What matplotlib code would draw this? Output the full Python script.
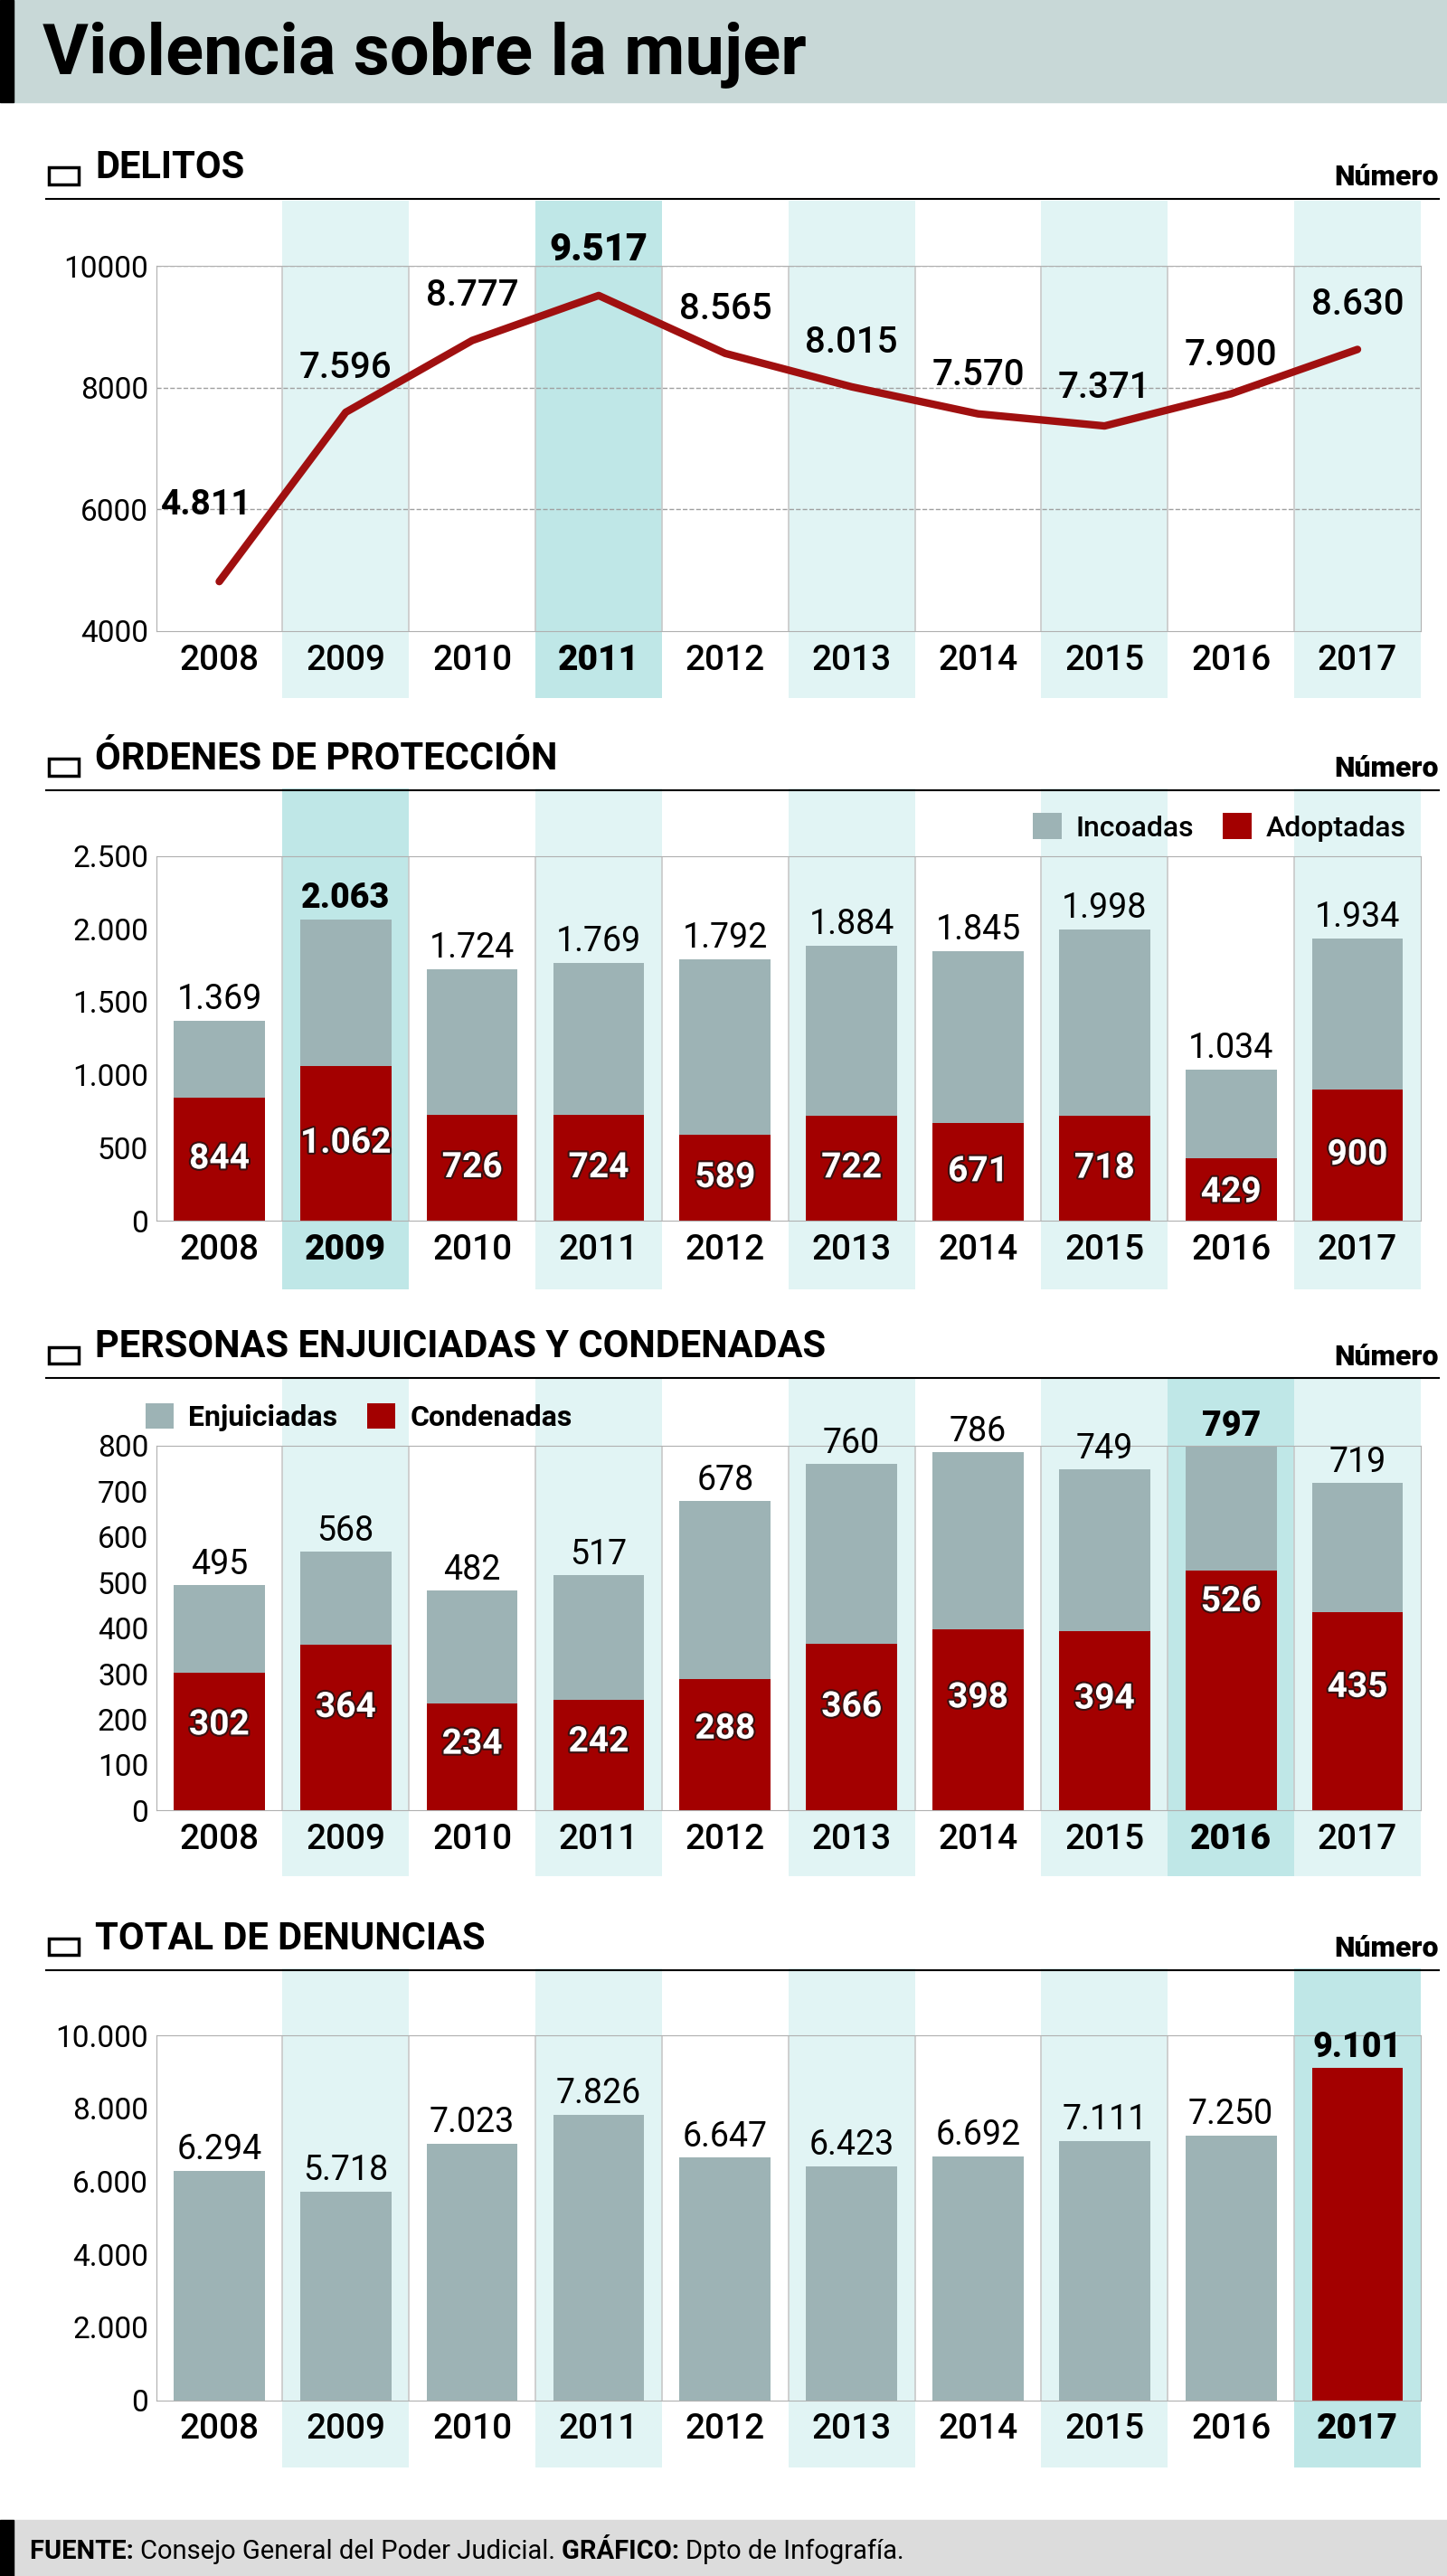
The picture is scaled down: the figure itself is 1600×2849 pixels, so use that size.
import numpy as np
import matplotlib.pyplot as plt
import matplotlib.patheffects as pe
from matplotlib.patches import Rectangle

plt.rcParams["font.family"] = "Roboto"

years = ["2008", "2009", "2010", "2011", "2012", "2013", "2014", "2015", "2016", "2017"]
delitos = [4811, 7596, 8777, 9517, 8565, 8015, 7570, 7371, 7900, 8630]
ord_incoadas = [1369, 2063, 1724, 1769, 1792, 1884, 1845, 1998, 1034, 1934]
ord_adoptadas = [844, 1062, 726, 724, 589, 722, 671, 718, 429, 900]
enjuiciadas = [495, 568, 482, 517, 678, 760, 786, 749, 797, 719]
condenadas = [302, 364, 234, 242, 288, 366, 398, 394, 526, 435]
denuncias = [6294, 5718, 7023, 7826, 6647, 6423, 6692, 7111, 7250, 9101]

W, H = 881.0, 1568.0
GRAY = "#9db3b5"
RED = "#a30000"
LIGHT = "#e1f4f4"
HILITE = "#bfe7e7"


def fmt(v):
    return "{:,}".format(v).replace(",", ".")


def fx(x):
    return x / W


def fy(y):
    return 1 - y / H


fig = plt.figure(figsize=(16, 28.49), dpi=100)

# title bar
fig.patches.append(Rectangle((0, fy(62)), 1, 62 / H, transform=fig.transFigure,
                             color="#c8d8d7", zorder=0))
fig.patches.append(Rectangle((0, fy(62)), fx(8), 62 / H, transform=fig.transFigure,
                             color="black", zorder=1))
fig.text(fx(26), fy(33), "Violencia sobre la mujer", fontsize=56, fontweight="bold",
         va="center", ha="left")

# footer
fig.patches.append(Rectangle((0, 0), 1, 34 / H, transform=fig.transFigure,
                             color="#dcdcdc", zorder=0))
fig.patches.append(Rectangle((0, 0), fx(8), 34 / H, transform=fig.transFigure,
                             color="black", zorder=1))
renderer = fig.canvas.get_renderer()
xpos = fx(18)
for txt, wt in [("FUENTE: ", "bold"), ("Consejo General del Poder Judicial. ", "normal"),
                ("GRÁFICO: ", "bold"), ("Dpto de Infografía.", "normal")]:
    t = fig.text(xpos, fy(1553), txt, fontsize=21, fontweight=wt, va="center")
    bb = t.get_window_extent(renderer)
    xpos += bb.width / fig.bbox.width


def header(y, title):
    fig.patches.append(Rectangle((fx(30), fy(y + 10)), fx(18), 0.0065,
                                 transform=fig.transFigure, fill=False, lw=2.5,
                                 edgecolor="black"))
    fig.text(fx(58), fy(y), title, fontsize=30, fontweight="bold", va="center")
    fig.text(fx(876), fy(y + 6), "Número", fontsize=23, fontweight="black", va="center",
             ha="right")
    fig.add_artist(plt.Line2D([fx(28), fx(876)], [fy(y + 19), fy(y + 19)],
                              transform=fig.transFigure, color="black", lw=1.5))


def panel(ytop, ybot, band_top, band_bot, hi):
    ax = fig.add_axes([fx(95), fy(ybot), fx(865) - fx(95), (ybot - ytop) / H])
    ax.set_xlim(-0.5, 9.5)
    h = ybot - ytop
    for i in range(10):
        if i % 2 == 1 or i == hi:
            ax.axvspan(i - 0.5, i + 0.5, ymin=(ybot - band_bot) / h,
                       ymax=(ybot - band_top) / h, color=HILITE if i == hi else LIGHT,
                       clip_on=False, zorder=0, lw=0)
    for i in range(1, 10):
        ax.axvline(i - 0.5, color="#c8c8c8", lw=1.2, zorder=0.5)
    for s in ax.spines.values():
        s.set_color("#b0b0b0")
    ax.set_facecolor("none")
    ax.set_xticks(range(10))
    ax.set_xticklabels(years, fontsize=28, fontweight="medium")
    ax.get_xticklabels()[hi].set_fontweight("black")
    ax.tick_params(axis="x", length=0, pad=10)
    ax.tick_params(axis="y", length=0, labelsize=24, pad=6)
    return ax


# DELITOS
header(102, "DELITOS")
ax1 = panel(162, 384, 122, 425, 3)
ax1.set_ylim(4000, 10000)
ax1.set_yticks([4000, 6000, 8000, 10000])
ax1.set_yticklabels(["4000", "6000", "8000", "10000"])
for v in [6000, 8000, 10000]:
    ax1.axhline(v, color="#a0a0a0", ls="--", lw=1, zorder=0.6)
ax1.plot(range(10), delitos, color="#a01010", lw=6, zorder=3, solid_capstyle="round")
for i, v in enumerate(delitos):
    if i == 0:
        ax1.text(i - 0.1, v + 1100, fmt(v), fontsize=28, fontweight="bold", ha="center",
                 zorder=4)
    else:
        dy = 450 if i in (1, 2, 3, 4, 5, 9) else 350
        ax1.text(i, v + dy, fmt(v), fontsize=29 if i != 3 else 30,
                 fontweight="black" if i == 3 else "medium", ha="center", va="bottom",
                 zorder=4)

stroke = [pe.withStroke(linewidth=3, foreground="#3a1010")]
x = np.arange(10)

# ORDENES
header(462, "ÓRDENES DE PROTECCIÓN")
ax2 = panel(521, 743, 480, 785, 1)
ax2.set_ylim(0, 2500)
ax2.set_yticks(range(0, 2501, 500))
ax2.set_yticklabels([fmt(v) for v in range(0, 2501, 500)])
ax2.bar(x, ord_incoadas, width=0.72, color=GRAY, zorder=2, label="Incoadas")
ax2.bar(x, ord_adoptadas, width=0.72, color=RED, zorder=2, label="Adoptadas")
for i in range(10):
    ax2.text(i, ord_incoadas[i] + 30, fmt(ord_incoadas[i]), fontsize=27, ha="center",
             va="bottom", fontweight="black" if i == 1 else "normal", zorder=4)
    ax2.text(i, ord_adoptadas[i] / 2 if ord_adoptadas[i] > 500 else ord_adoptadas[i] * 0.45,
             fmt(ord_adoptadas[i]), fontsize=28, ha="center", va="center", color="white",
             fontweight="bold", path_effects=stroke, zorder=4)
ax2.legend(loc="lower right", bbox_to_anchor=(1.0, 1.0), ncol=2, frameon=False,
           prop={"size": 23, "weight": "medium"}, handlelength=1.0, handleheight=1.0,
           columnspacing=1.0, handletextpad=0.5, borderaxespad=0.1)

# PERSONAS
header(820, "PERSONAS ENJUICIADAS Y CONDENADAS")
ax3 = panel(880, 1102, 838, 1142, 8)
ax3.set_ylim(0, 800)
ax3.set_yticks(range(0, 801, 100))
ax3.bar(x, enjuiciadas, width=0.72, color=GRAY, zorder=2, label="Enjuiciadas")
ax3.bar(x, condenadas, width=0.72, color=RED, zorder=2, label="Condenadas")
for i in range(10):
    ax3.text(i, enjuiciadas[i] + 8, fmt(enjuiciadas[i]), fontsize=27, ha="center",
             va="bottom", fontweight="black" if i == 8 else "normal", zorder=4,
             clip_on=False)
    ax3.text(i, condenadas[i] * 0.62 if i != 8 else condenadas[i] * 0.87,
             fmt(condenadas[i]), fontsize=28, ha="center", va="center", color="white",
             fontweight="bold", path_effects=stroke, zorder=4)
ax3.legend(loc="lower left", bbox_to_anchor=(-0.02, 1.0), ncol=2, frameon=False,
           prop={"size": 23, "weight": "bold"}, handlelength=1.0, handleheight=1.0,
           columnspacing=1.0, handletextpad=0.5, borderaxespad=0.1)

# DENUNCIAS
header(1180, "TOTAL DE DENUNCIAS")
ax4 = panel(1239, 1461, 1198, 1502, 9)
ax4.set_ylim(0, 10000)
ax4.set_yticks(range(0, 10001, 2000))
ax4.set_yticklabels([fmt(v) for v in range(0, 10001, 2000)])
ax4.bar(x, denuncias, width=0.72, color=[GRAY] * 9 + [RED], zorder=2)
for i in range(10):
    ax4.text(i, denuncias[i] + 120, fmt(denuncias[i]), fontsize=27, ha="center",
             va="bottom", fontweight="black" if i == 9 else "normal", zorder=4,
             clip_on=False)

fig.savefig("out.png", dpi=100)
